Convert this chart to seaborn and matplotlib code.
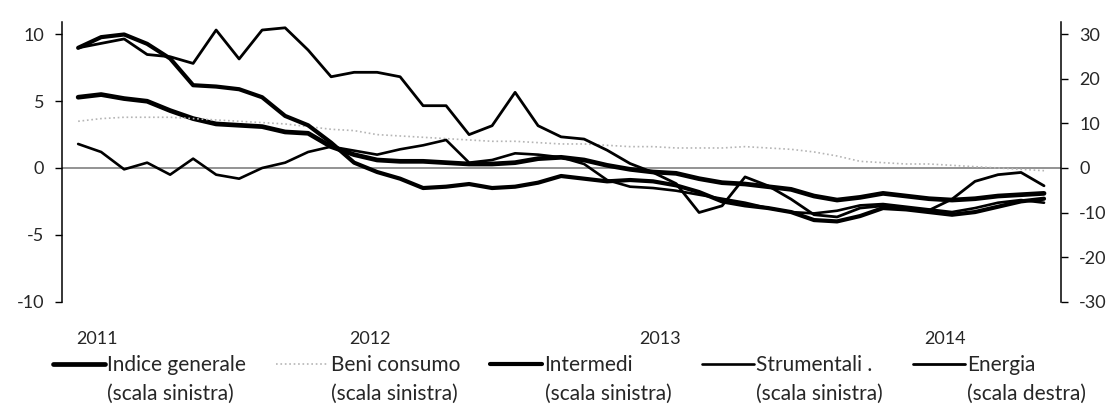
"""
Prezzi alla produzione: indice generale e raggruppamenti (var. % tendenziali).
"""

import numpy as np
import pandas as pd
import seaborn as sns
import matplotlib.pyplot as plt

# ----------------------------------------------- DATA ----------------------------------------------- #

# monthly, Dec 2010 - Jun 2014 (index 0 = Dec 2010)
year_labels = ['2011', '2012', '2013', '2014']
year_pos = [0.8, 12.7, 25.3, 37.7]

indice = [5.3, 5.5, 5.2, 5.0, 4.3, 3.7, 3.3, 3.2, 3.1, 2.7, 2.6, 1.6, 1.0, 0.6, 0.5, 0.5, 0.4, 0.3, 0.3, 0.4,
          0.7, 0.8, 0.6, 0.2, -0.1, -0.3, -0.4, -0.8, -1.1, -1.2, -1.4, -1.6, -2.1, -2.4, -2.2, -1.9, -2.1,
          -2.3, -2.4, -2.3, -2.1, -2.0, -1.9]
beni = [3.5, 3.7, 3.8, 3.8, 3.8, 3.7, 3.6, 3.5, 3.4, 3.3, 3.1, 2.9, 2.8, 2.5, 2.4, 2.3, 2.2, 2.1, 2.0, 2.0,
        1.9, 1.8, 1.8, 1.7, 1.6, 1.6, 1.5, 1.5, 1.5, 1.6, 1.5, 1.4, 1.2, 0.9, 0.5, 0.4, 0.3, 0.3, 0.2, 0.1,
        0.0, -0.1, -0.2]
intermedi = [9.0, 9.8, 10.0, 9.3, 8.2, 6.2, 6.1, 5.9, 5.3, 3.9, 3.2, 1.9, 0.4, -0.3, -0.8, -1.5, -1.4, -1.2,
             -1.5, -1.4, -1.1, -0.6, -0.8, -1.0, -0.9, -1.0, -1.3, -1.8, -2.5, -2.8, -3.0, -3.3, -3.9, -4.0,
             -3.6, -3.0, -3.1, -3.3, -3.5, -3.3, -2.9, -2.5, -2.3]
strumentali = [1.8, 1.2, -0.1, 0.4, -0.5, 0.7, -0.5, -0.8, 0.0, 0.4, 1.2, 1.6, 1.3, 1.0, 1.4, 1.7, 2.1, 0.4,
               0.6, 1.1, 1.0, 0.8, 0.3, -0.9, -1.4, -1.5, -1.7, -2.0, -2.3, -2.6, -3.0, -3.3, -3.4, -3.2, -2.8,
               -2.7, -2.9, -3.1, -3.3, -3.0, -2.6, -2.4, -2.6]
energia = [27, 28, 29, 25.5, 25, 23.5, 31, 24.5, 31, 31.5, 26.5, 20.5, 21.5, 21.5, 20.5, 14, 14, 7.5, 9.5, 17,
           9.5, 7, 6.5, 4, 1, -1, -3.5, -10, -8.5, -2, -4, -7, -10.5, -11, -9, -8.5, -9, -9.5, -7, -3, -1.5,
           -1, -4]

labels = ['Indice generale\n(scala sinistra)', 'Beni consumo\n(scala sinistra)', 'Intermedi\n(scala sinistra)',
          'Strumentali .\n(scala sinistra)', 'Energia\n(scala destra)']

# ----------------------------------------------- PLOT ----------------------------------------------- #

sns.set_style('white')
plt.rcParams['font.family'] = ['Lato', 'DejaVu Sans']
plt.rcParams['axes.unicode_minus'] = False

months = np.arange(len(indice))
df = pd.DataFrame({'m': months, 'indice': indice, 'beni': beni, 'intermedi': intermedi,
                   'strumentali': strumentali, 'energia': energia})

fig = plt.figure(figsize=(11.1, 4.16), dpi=100)
ax = fig.add_axes([0.0559, 0.2752, 0.9, 0.6724])
ax2 = ax.twinx()

sns.lineplot(data=df, x='m', y='indice', ax=ax, color='black', linewidth=3.4, label=labels[0], legend=False)
sns.lineplot(data=df, x='m', y='beni', ax=ax, color='#b5b5b5', linewidth=1.2, linestyle=':', label=labels[1],
             legend=False)
sns.lineplot(data=df, x='m', y='intermedi', ax=ax, color='black', linewidth=3.0, label=labels[2], legend=False)
sns.lineplot(data=df, x='m', y='strumentali', ax=ax, color='black', linewidth=1.9, label=labels[3], legend=False)
sns.lineplot(data=df, x='m', y='energia', ax=ax2, color='black', linewidth=2.0, label=labels[4], legend=False)

ax.axhline(0, color='#8a8a8a', linewidth=1.3, zorder=0)

ax.set_xlim(-0.7, 42.74)
ax.set_ylim(-10, 10.95)
ax2.set_ylim(-30, 32.85)
ax.set_yticks([-10, -5, 0, 5, 10])
ax2.set_yticks([-30, -20, -10, 0, 10, 20, 30])
ax.set_xticks(year_pos)
ax.set_xticklabels(year_labels)
ax.set_xlabel('')
ax.set_ylabel('')
ax2.set_ylabel('')

for a in (ax, ax2):
    for s in ('top', 'bottom'):
        a.spines[s].set_visible(False)
    a.spines['left'].set_visible(a is ax)
    a.spines['right'].set_visible(a is ax2)
ax.spines['left'].set_color('black')
ax.spines['left'].set_linewidth(1.1)
ax2.spines['right'].set_color('black')
ax2.spines['right'].set_linewidth(1.1)

ax.tick_params(axis='y', direction='out', length=5, width=1, color='black', labelsize=13, pad=8, left=True)
ax2.tick_params(axis='y', direction='out', length=5, width=1, color='black', labelsize=13, pad=8, right=True)
ax.tick_params(axis='x', length=0, labelsize=13, pad=21)

handles = ax.get_lines()[:4] + ax2.get_lines()[:1]
leg = fig.legend(handles, labels, loc='upper left', bbox_to_anchor=(0.0477, 0.146), ncol=5, frameon=False,
                 fontsize=15, handlelength=2.5, handletextpad=0.1, columnspacing=1.46, borderpad=0,
                 borderaxespad=0)
for t in leg.get_texts():
    t.set_linespacing(1.55)
# handles sit on the first text line, not the second
for ln in leg.get_lines():
    ln.set_ydata(np.asarray(ln.get_ydata()) + 12)

fig.savefig('out.png', dpi=100)
